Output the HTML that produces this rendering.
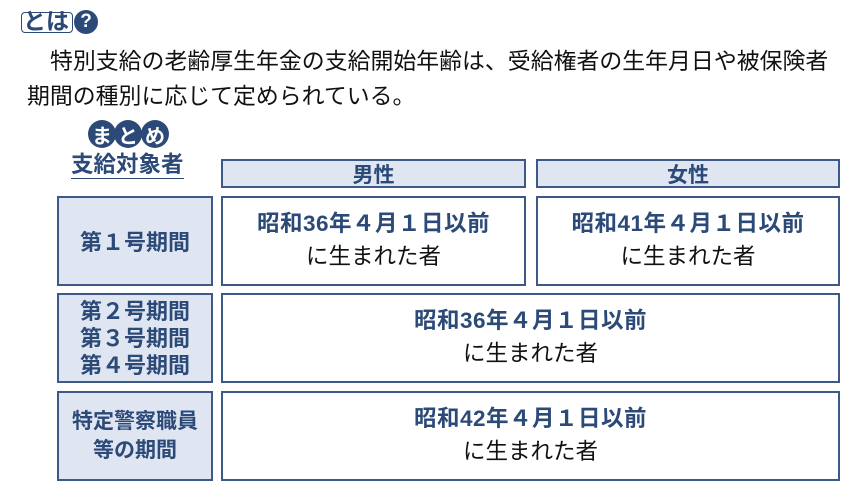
<!DOCTYPE html>
<html><head><meta charset="utf-8"><style>
body{margin:0;width:856px;height:500px;background:#fff;position:relative;overflow:hidden;font-family:"Liberation Sans","Noto Sans CJK JP",sans-serif}
.a{position:absolute}
.box{position:absolute;box-sizing:border-box;border:2px solid #3d5a86;display:flex;flex-direction:column;align-items:center;justify-content:center;text-align:center}
.f{background:#dfe6f2}
.w{background:#fff}
.b{color:#2c4a78;font-weight:bold}
.t1{color:#2c4a78;font-weight:bold;font-size:22.5px;line-height:32px;letter-spacing:0.5px}
.t2{color:#111;font-size:22.5px;line-height:34px}
.c{width:28px;height:28px;border-radius:50%;background:#2c4a78;color:#fff;font-weight:bold;font-size:20px;display:flex;align-items:center;justify-content:center;position:absolute;top:120px}
</style></head><body>
<div class="a" style="left:21px;top:12px;width:52px;height:21px;border:1.5px solid #2c4a78;border-radius:4px;box-sizing:border-box"></div>
<div class="a b" style="left:23px;top:8px;font-size:23px;line-height:26px">とは</div>
<div class="a" style="left:74px;top:10px;width:24px;height:24px;border-radius:50%;background:#2c4a78;color:#fff;font-weight:bold;font-size:19px;line-height:24px;text-align:center">?</div>
<div class="a" style="left:50px;top:42px;font-size:22.9px;color:#111;white-space:nowrap">特別支給の老齢厚生年金の支給開始年齢は、受給権者の生年月日や被保険者</div>
<div class="a" style="left:27px;top:77px;font-size:22.9px;color:#111;white-space:nowrap">期間の種別に応じて定められている。</div>
<div class="c" style="left:88px">ま</div>
<div class="c" style="left:114px">と</div>
<div class="c" style="left:141px">め</div>
<div class="a b" style="left:71px;top:151px;font-size:22.5px;line-height:27px;border-bottom:1.5px solid #2c4a78">支給対象者</div>
<div class="box f b" style="left:221px;top:159px;width:305px;height:29px;font-size:21px">男性</div>
<div class="box f b" style="left:536px;top:159px;width:304px;height:29px;font-size:21px">女性</div>
<div class="box f b" style="left:57px;top:196px;width:156px;height:90px;font-size:22px">第１号期間</div>
<div class="box w" style="left:221px;top:196px;width:305px;height:90px"><div class="t1">昭和36年４月１日以前</div><div class="t2">に生まれた者</div></div>
<div class="box w" style="left:536px;top:196px;width:304px;height:90px"><div class="t1">昭和41年４月１日以前</div><div class="t2">に生まれた者</div></div>
<div class="box f b" style="left:57px;top:293px;width:156px;height:90px;font-size:22px;line-height:27px">第２号期間<br>第３号期間<br>第４号期間</div>
<div class="box w" style="left:221px;top:293px;width:619px;height:90px"><div class="t1">昭和36年４月１日以前</div><div class="t2">に生まれた者</div></div>
<div class="box f b" style="left:57px;top:391px;width:156px;height:90px;font-size:21px;line-height:29px">特定警察職員<br>等の期間</div>
<div class="box w" style="left:221px;top:391px;width:619px;height:90px"><div class="t1">昭和42年４月１日以前</div><div class="t2">に生まれた者</div></div>
</body></html>
